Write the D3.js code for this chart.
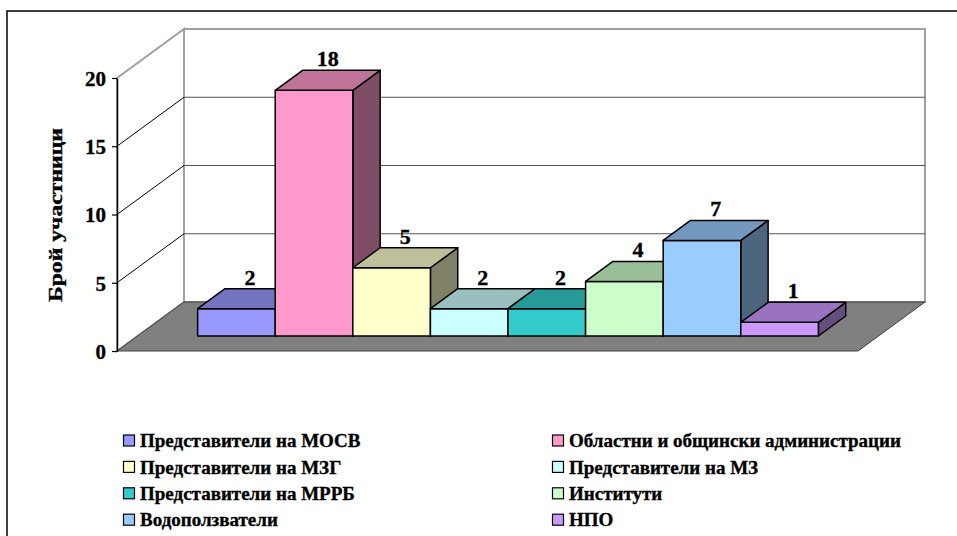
<!DOCTYPE html>
<html>
<head>
<meta charset="utf-8">
<script src="https://cdn.jsdelivr.net/npm/d3@7"></script>
<style>
  html, body { margin: 0; padding: 0; background: #fff; }
  svg { display: block; }
  text { font-family: "Liberation Serif", "Times New Roman", serif; font-weight: bold; fill: #000; stroke: #000; stroke-width: 0.35px; }
</style>
</head>
<body>
<svg id="chart" width="957" height="536"></svg>
<script>
// ---- data ----
const categories = [
  "Представители на МОСВ",
  "Области и общински администрации",
  "Представители на МЗГ",
  "Представители на МЗ",
  "Представители на МРРБ",
  "Институти",
  "Водоползватели",
  "НПО"
];
const legendLabels = [
  "Представители на МОСВ",
  "Областни и общински администрации",
  "Представители на МЗГ",
  "Представители на МЗ",
  "Представители на МРРБ",
  "Институти",
  "Водоползватели",
  "НПО"
];
const values = [2, 18, 5, 2, 2, 4, 7, 1];
const colors = ["#9999FF", "#FF99CC", "#FFFFCC", "#CCFFFF", "#33CCCC", "#CCFFCC", "#99CCFF", "#CC99FF"];
const yTicks = [0, 5, 10, 15, 20];
const yTitle = "Брой участници";

// ---- layout ----
const svg = d3.select("#chart");
const X0 = 117, X1 = 858;          // front plane x extent
const YB = 351, YT = 78;           // front plane y for 0 and 20
const DX = 67, DY = -49;           // full depth offset
const D0 = 0.306, D1 = 0.714;      // bar depth range (fraction)

const y = d3.scaleLinear().domain([0, 20]).range([YB, YT]);
const x = d3.scaleBand().domain(categories).range([X0, X1]).paddingInner(0).paddingOuter(0.775);

function shade(c, k) {
  const r = d3.rgb(c);
  return d3.rgb(Math.round(r.r * k), Math.round(r.g * k), Math.round(r.b * k)).formatHex();
}
const P = (px, py, d) => [px + DX * d, py + DY * d];
const poly = pts => pts.map(p => p.join(",")).join(" ");

// outer frame
svg.append("rect").attr("x", 7).attr("y", 11).attr("width", 980).attr("height", 560)
  .attr("fill", "none").attr("stroke", "#000").attr("stroke-width", 1.5);

// back wall
svg.append("polygon")
  .attr("points", poly([P(X0, YT, 1), P(X1, YT, 1), P(X1, YB, 1), P(X0, YB, 1)]))
  .attr("fill", "#fff").attr("stroke", "#A0A0A0").attr("stroke-width", 2);
// side wall
svg.append("polygon")
  .attr("points", poly([P(X0, YT, 0), P(X0, YT, 1), P(X0, YB, 1), P(X0, YB, 0)]))
  .attr("fill", "#fff").attr("stroke", "#A0A0A0").attr("stroke-width", 2);

// gridlines
const grid = yTicks.filter(v => v > 0 && v < 20);
svg.append("g").selectAll("line.h").data(grid).join("line")
  .attr("x1", d => P(X0, y(d), 1)[0]).attr("y1", d => P(X0, y(d), 1)[1])
  .attr("x2", d => P(X1, y(d), 1)[0]).attr("y2", d => P(X1, y(d), 1)[1])
  .attr("stroke", "#555").attr("stroke-width", 1.2);
svg.append("g").selectAll("line.d").data(grid).join("line")
  .attr("x1", d => P(X0, y(d), 0)[0]).attr("y1", d => P(X0, y(d), 0)[1])
  .attr("x2", d => P(X0, y(d), 1)[0]).attr("y2", d => P(X0, y(d), 1)[1])
  .attr("stroke", "#000").attr("stroke-width", 1);

// floor
svg.append("polygon")
  .attr("points", poly([P(X0, YB, 0), P(X1, YB, 0), P(X1, YB, 1), P(X0, YB, 1)]))
  .attr("fill", "#808080").attr("stroke", "#404040").attr("stroke-width", 1);

// bars
const bars = svg.append("g");
categories.forEach((c, i) => {
  const v = values[i];
  const xl = x(c), xr = x(c) + x.bandwidth();
  const g = bars.append("g");
  const front = [P(xl, y(v), D0), P(xr, y(v), D0), P(xr, y(0), D0), P(xl, y(0), D0)];
  const top = [P(xl, y(v), D0), P(xr, y(v), D0), P(xr, y(v), D1), P(xl, y(v), D1)];
  const side = [P(xr, y(v), D0), P(xr, y(v), D1), P(xr, y(0), D1), P(xr, y(0), D0)];
  [[side, shade(colors[i], 0.5)], [front, colors[i]], [top, shade(colors[i], 0.75)]].forEach(([pts, fill]) => {
    g.append("polygon").attr("points", poly(pts)).attr("fill", fill)
      .attr("stroke", "#000").attr("stroke-width", 1.5).attr("stroke-linejoin", "round");
  });
});

// value labels
const DM = (D0 + D1) / 2;
svg.append("g").selectAll("text").data(categories).join("text")
  .attr("x", (c) => P(x(c) + x.bandwidth() / 2, 0, DM)[0])
  .attr("y", (c, i) => P(0, y(values[i]), DM)[1] - 14)
  .attr("text-anchor", "middle")
  .attr("font-size", 22)
  .text((c, i) => values[i]);

// y axis
const axis = svg.append("g").attr("transform", `translate(${X0},0)`)
  .call(d3.axisLeft(y).tickValues(yTicks).tickSize(5).tickSizeOuter(0).tickPadding(6));
axis.select(".domain").attr("stroke", "#000").attr("stroke-width", 1.5);
axis.selectAll(".tick line").attr("stroke", "#000").attr("stroke-width", 1.2);
axis.selectAll(".tick text").attr("font-size", 21).attr("font-family", "Liberation Serif, Times New Roman, serif")
  .attr("font-weight", "bold").attr("fill", "#000").attr("dy", "0.35em");

// y title
svg.append("text")
  .attr("transform", "translate(62,215) rotate(-90)")
  .attr("text-anchor", "middle")
  .attr("font-size", 19)
  .attr("textLength", 174)
  .attr("lengthAdjust", "spacingAndGlyphs")
  .text(yTitle);

// legend
const legCols = [123.5, 552.5];
const legRow0 = 440.5, legStep = 26.4;
const leg = svg.append("g").selectAll("g").data(legendLabels).join("g")
  .attr("transform", (d, i) => `translate(${legCols[i % 2]},${legRow0 + Math.floor(i / 2) * legStep})`);
leg.append("rect").attr("x", 0).attr("y", -5.5).attr("width", 11).attr("height", 11)
  .attr("fill", (d, i) => colors[i]).attr("stroke", "#000").attr("stroke-width", 1.2);
leg.append("text").attr("x", 16.5).attr("y", 0).attr("dy", "0.35em")
  .attr("font-size", 19).text(d => d);
</script>
</body>
</html>
